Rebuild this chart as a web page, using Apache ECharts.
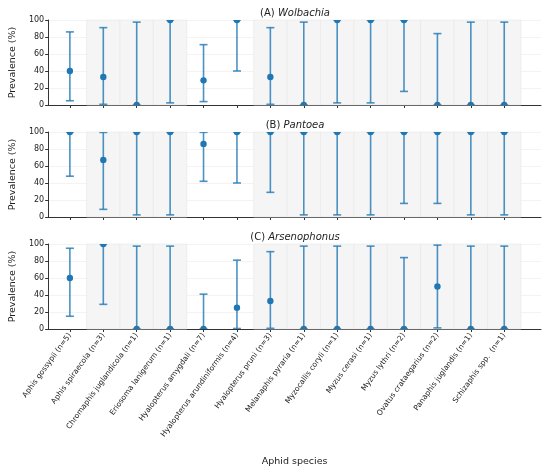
<!DOCTYPE html>
<html>
<head>
<meta charset="utf-8">
<script src="https://cdn.jsdelivr.net/npm/echarts@6.0.0/dist/echarts.min.js"></script>
<style>
  html, body { margin: 0; padding: 0; background: #fff; }
  #main { width: 550px; height: 472px; }
</style>
</head>
<body>
<div id="main"></div>
<script>
// 物种名称（x 轴）
var species = [
  'Aphis gossypii (n=5)', 'Aphis spiraecola (n=3)', 'Chromaphis juglandicola (n=1)',
  'Eriosoma lanigerum (n=1)', 'Hyalopterus amygdali (n=7)', 'Hyalopterus arundiniformis (n=4)',
  'Hyalopterus pruni (n=3)', 'Melanaphis pyraria (n=1)', 'Myzocallis coryli (n=1)',
  'Myzus cerasi (n=1)', 'Myzus lythri (n=2)', 'Ovatus crataegarius (n=2)',
  'Panaphis juglandis (n=1)', 'Schizaphis spp.  (n=1)'
];
// 灰色背景的类别
var shaded = [1, 2, 3, 6, 7, 8, 9, 10, 11, 12, 13];

// (A) Wolbachia
var wolbPoint = [40, 33, 0, 100, 29, 100, 33, 0, 100, 100, 100, 0, 0, 0];
var wolbLow   = [5, 0.8, 0, 2.5, 4, 40, 0.8, 0, 2.5, 2.5, 16, 0, 0, 0];
var wolbHigh  = [86, 91, 97.5, 100, 71, 100, 91, 97.5, 100, 100, 100, 84, 97.5, 97.5];

// (B) Pantoea
var pantPoint = [100, 67, 100, 100, 86, 100, 100, 100, 100, 100, 100, 100, 100, 100];
var pantLow   = [48, 9, 2.5, 2.5, 42, 40, 29, 2.5, 2.5, 2.5, 16, 16, 2.5, 2.5];
var pantHigh  = [100, 99.5, 100, 100, 99.6, 100, 100, 100, 100, 100, 100, 100, 100, 100];

// (C) Arsenophonus
var arsPoint = [60, 100, 0, 0, 0, 25, 33, 0, 0, 0, 0, 50, 0, 0];
var arsLow   = [15, 29, 0, 0, 0, 0.6, 0.8, 0, 0, 0, 0, 1.3, 0, 0];
var arsHigh  = [95, 100, 97.5, 97.5, 41, 81, 91, 97.5, 97.5, 97.5, 84, 98.7, 97.5, 97.5];

var panels = [
  { name: 'Wolbachia', tag: '(A) ', p: wolbPoint, lo: wolbLow, hi: wolbHigh, top: 20 },
  { name: 'Pantoea', tag: '(B) ', p: pantPoint, lo: pantLow, hi: pantHigh, top: 132 },
  { name: 'Arsenophonus', tag: '(C) ', p: arsPoint, lo: arsLow, hi: arsHigh, top: 244 }
];

var FONT = 'DejaVu Sans';
var BLUE = '#1f77b4';
var idx = species.map(function (s, i) { return i; });

var chart = echarts.init(document.getElementById('main'), null, { renderer: 'canvas' });

var grids = [], xAxes = [], yAxes = [], series = [], titles = [];

panels.forEach(function (pn, k) {
  grids.push({ left: 40, right: 9, top: pn.top, height: 85 });
  titles.push({
    text: '{n|' + pn.tag + '}{i|' + pn.name + '}',
    left: 290, top: pn.top - 17, textAlign: 'center',
    textStyle: {
      fontWeight: 'normal',
      rich: {
        n: { fontFamily: FONT, fontSize: 10, color: '#222', fontWeight: 'normal' },
        i: { fontFamily: FONT, fontSize: 10, color: '#222', fontStyle: 'italic', fontWeight: 'normal' }
      }
    }
  });
  var last = k === panels.length - 1;
  xAxes.push({
    gridIndex: k, type: 'value', min: -0.65, max: 14.1,
    name: last ? 'Aphid species' : '', nameLocation: 'middle', nameGap: 128,
    nameTextStyle: { fontFamily: FONT, fontSize: 9.5, color: '#222' },
    axisLine: { show: true, onZero: false, lineStyle: { color: '#333', width: 1 } },
    axisTick: { show: true, customValues: idx, length: 3, lineStyle: { color: '#333' } },
    axisLabel: {
      show: last, customValues: idx, rotate: 54, fontFamily: FONT, fontSize: 7.5,
      color: '#222', margin: 5,
      formatter: function (v) { return species[Math.round(v)] || ''; }
    },
    splitLine: { show: false }
  });
  yAxes.push({
    gridIndex: k, type: 'value', min: 0, max: 100, interval: 20,
    name: 'Prevalence (%)', nameLocation: 'middle', nameGap: 24,
    nameTextStyle: { fontFamily: FONT, fontSize: 9.5, color: '#222' },
    axisLine: { show: true, onZero: false, lineStyle: { color: '#333', width: 1 } },
    axisTick: { show: true, length: 3, lineStyle: { color: '#333' } },
    axisLabel: { fontFamily: FONT, fontSize: 8, color: '#222', margin: 4 },
    splitLine: { show: true, lineStyle: { color: '#f0f0f0', width: 0.8 } }
  });

  // 背景色块
  series.push({
    type: 'custom', xAxisIndex: k, yAxisIndex: k, silent: true, z: 1,
    data: shaded.map(function (i) { return [i]; }),
    renderItem: function (params, api) {
      var i = api.value(0);
      var a = api.coord([i - 0.5, 100]);
      var b = api.coord([i + 0.5, 0]);
      return {
        type: 'rect',
        shape: { x: a[0], y: a[1], width: b[0] - a[0], height: b[1] - a[1] },
        style: { fill: '#f5f5f5', stroke: '#e8e8e8', lineWidth: 0.6 }
      };
    }
  });

  // 误差线 + 点估计（裁剪到坐标区域内）
  series.push({
    type: 'custom', xAxisIndex: k, yAxisIndex: k, z: 3, clip: true,
    data: idx.map(function (i) { return [i, pn.lo[i], pn.hi[i], pn.p[i]]; }),
    renderItem: function (params, api) {
      var i = api.value(0);
      var lo = api.coord([i, api.value(1)]);
      var hi = api.coord([i, api.value(2)]);
      var pt = api.coord([i, api.value(3)]);
      var cw = 4;
      var st = { stroke: BLUE, lineWidth: 1.6, opacity: 0.8 };
      return {
        type: 'group',
        children: [
          { type: 'line', shape: { x1: lo[0], y1: lo[1], x2: hi[0], y2: hi[1] }, style: st },
          { type: 'line', shape: { x1: lo[0] - cw, y1: lo[1], x2: lo[0] + cw, y2: lo[1] }, style: st },
          { type: 'line', shape: { x1: hi[0] - cw, y1: hi[1], x2: hi[0] + cw, y2: hi[1] }, style: st },
          { type: 'circle', shape: { cx: pt[0], cy: pt[1], r: 3.2 }, style: { fill: BLUE } }
        ]
      };
    }
  });
});

chart.setOption({
  animation: false,
  backgroundColor: '#fff',
  title: titles,
  grid: grids,
  xAxis: xAxes,
  yAxis: yAxes,
  series: series
});
</script>
</body>
</html>
